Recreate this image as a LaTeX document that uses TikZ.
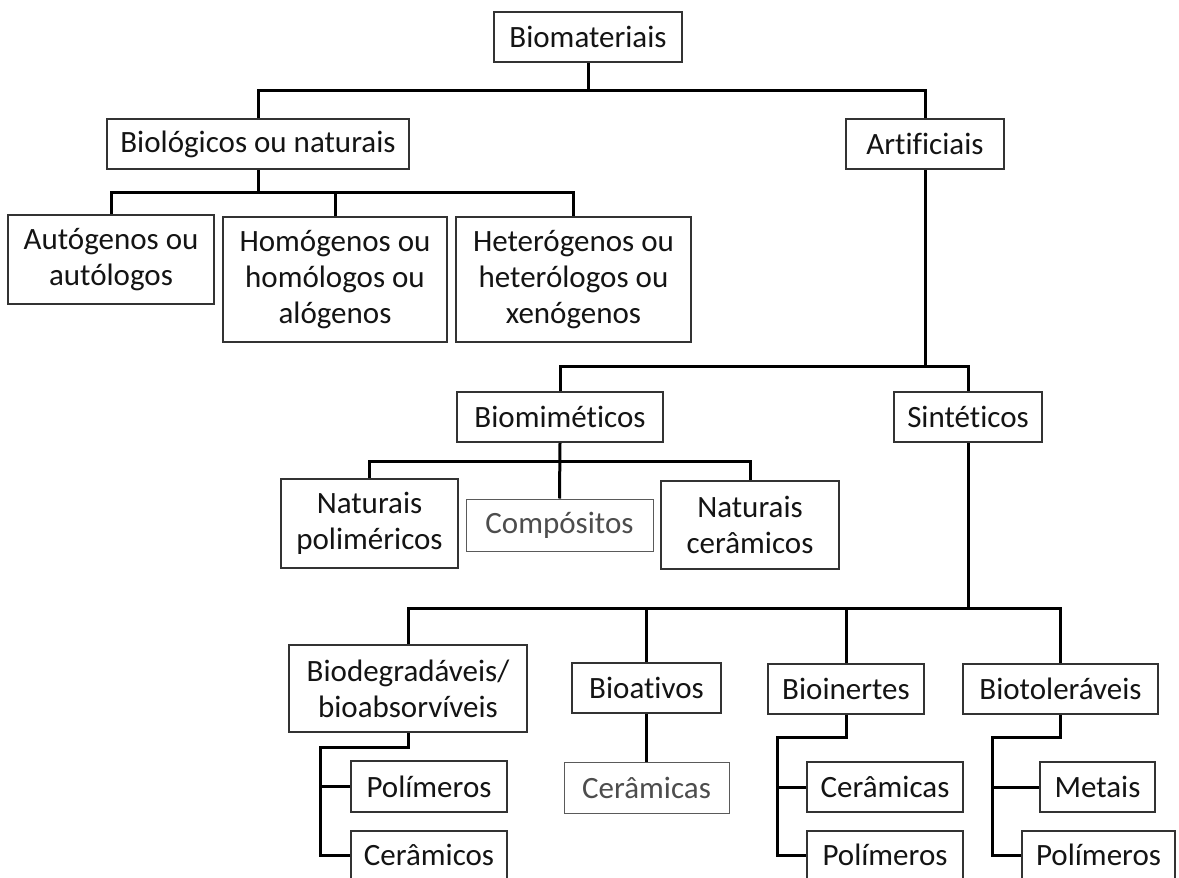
\documentclass[tikz,border=0pt]{standalone}
\usepackage{fontspec}
\setmainfont{Carlito}[Ligatures=NoCommon]
\definecolor{txt}{HTML}{141414}
\definecolor{bord}{HTML}{333333}
\definecolor{gtxt}{HTML}{4D4D4D}
\definecolor{gbord}{HTML}{5A5A5A}
\begin{document}
\begin{tikzpicture}[x=0.5pt,y=-0.5pt,
  bx/.style 2 args={draw=bord, line width=1pt, text=txt, align=center, inner sep=0pt,
    minimum width=#1*0.5pt, minimum height=#2*0.5pt, font=\fontsize{15.5}{18}\selectfont},
  gbx/.style 2 args={bx={#1}{#2}, draw=gbord, line width=0.5pt, text=gtxt},
  conn/.style={line width=1.5pt, black}]
\useasboundingbox (0,0) rectangle (1179,878);
\fill[white] (0,0) rectangle (1179,878);

% nodes
\node[bx={188}{50}] (bio) at (588,37) {Biomateriais};
\node[bx={302}{50}] (biol) at (258,144) {Biológicos ou naturais};
\node[bx={158}{50}] (art) at (925,144) {Artificiais};
\node[bx={206}{89}] (auto) at (111,259.5) {Autógenos ou\\autólogos};
\node[bx={224}{125}] (homo) at (335,279.5) {Homógenos ou\\homólogos ou\\alógenos};
\node[bx={235}{125}] (hete) at (573.5,279.5) {Heterógenos ou\\heterólogos ou\\xenógenos};
\node[bx={206}{50}] (biom) at (560,417) {Biomiméticos};
\node[bx={148}{50}] (sint) at (968,417) {Sintéticos};
\node[bx={177}{89}] (natp) at (369.5,523.5) {Naturais\\poliméricos};
\node[gbx={187}{52}] (comp) at (559.5,525) {Compósitos};
\node[bx={178}{88}] (natc) at (750,525) {Naturais\\cerâmicos};
\node[bx={238}{87}] (biod) at (408,688.5) {Biodegradáveis/\\bioabsorvíveis};
\node[bx={149}{50}] (bioa) at (646.5,688) {Bioativos};
\node[bx={156}{50}] (bioi) at (846,689) {Bioinertes};
\node[bx={195}{50}] (biot) at (1060.5,689) {Biotoleráveis};
\node[bx={156}{51}] (pol1) at (429,786.5) {Polímeros};
\node[bx={156}{48}] (cer1) at (429,855) {Cerâmicos};
\node[gbx={165}{51}] (cer2) at (646.5,787.5) {Cerâmicas};
\node[bx={156}{50}] (cer3) at (885,787) {Cerâmicas};
\node[bx={156}{48}] (pol3) at (885,855) {Polímeros};
\node[bx={115}{50}] (met) at (1097.5,787) {Metais};
\node[bx={153}{48}] (pol4) at (1098.5,855) {Polímeros};

% junctions
\coordinate (j1) at (588,90);
\coordinate (j2) at (258,192);
\coordinate (j3) at (925,366);
\coordinate (j4) at (560,461);
\coordinate (j5) at (968,608);
\coordinate (t1) at (320,747);
\coordinate (t2) at (777,737);
\coordinate (t3) at (992,737);

% connectors
\draw[conn] (bio.south) -- (j1);
\draw[conn] (biol.north) |- (j1) -| (art.north);
\draw[conn] (biol.south) -- (j2);
\draw[conn] (auto.north) |- (j2) -| (hete.north);
\draw[conn] (homo.north) -- (homo.north |- j2);
\draw[conn] (art.south) -- (j3);
\draw[conn] (biom.north) |- (j3) -| (sint.north);
\draw[conn] (biom.south) -- (comp.north);
\draw[conn] (natp.north) |- (j4) -| (natc.north);
\draw[conn] (sint.south) -- (j5);
\draw[conn] (biod.north) |- (j5) -| (biot.north);
\draw[conn] (bioa.north) -- (bioa.north |- j5);
\draw[conn] (bioi.north) -- (bioi.north |- j5);
\draw[conn] (biod.south) |- (t1) |- (cer1.west);
\draw[conn] (pol1.west) -- (pol1.west -| t1);
\draw[conn] (bioa.south) -- (cer2.north);
\draw[conn] (bioi.south) |- (t2) |- (pol3.west);
\draw[conn] (cer3.west) -- (cer3.west -| t2);
\draw[conn] (biot.south) |- (t3) |- (pol4.west);
\draw[conn] (met.west) -- (met.west -| t3);
\end{tikzpicture}
\end{document}
